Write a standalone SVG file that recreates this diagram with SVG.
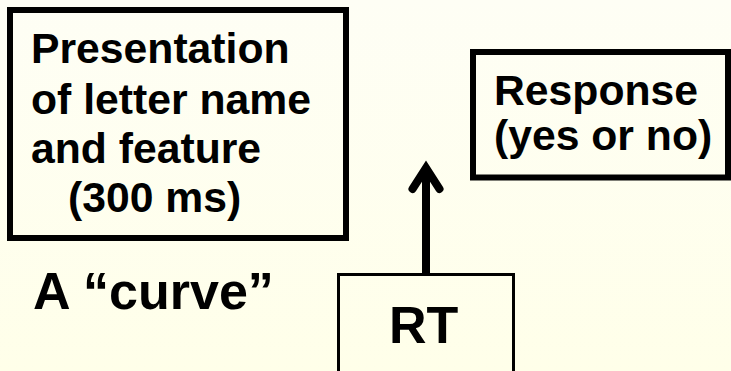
<svg xmlns="http://www.w3.org/2000/svg" width="731" height="371" viewBox="0 0 731 371">
  <defs>
    <linearGradient id="bg" x1="0" y1="0" x2="0" y2="1">
      <stop offset="0" stop-color="#FEFEF5"/>
      <stop offset="1" stop-color="#FFFFE9"/>
    </linearGradient>
    <marker id="openHead" markerUnits="userSpaceOnUse" viewBox="-30 -20 40 40" markerWidth="40" markerHeight="40" refX="0" refY="0" orient="auto" overflow="visible">
      <path d="M -21 -13.5 L 0 0 L -21 13.5" fill="none" stroke="#000" stroke-width="8" stroke-linecap="round" stroke-linejoin="miter"/>
    </marker>
    <style>
      .box { fill: none; stroke: #000; }
      .heavy { stroke-width: 6; }
      .thin { stroke-width: 3; }
      .lbl { font-family: "Liberation Sans", Arial, sans-serif; font-weight: bold; fill: #000; }
      .mid { font-size: 42.7px; }
      .big { font-size: 52px; }
    </style>
  </defs>

  <rect width="731" height="371" fill="url(#bg)"/>

  <!-- stimulus box -->
  <g id="presentation">
    <rect class="box heavy" x="10" y="10" width="336" height="228"/>
    <text class="lbl mid" x="31" y="63">Presentation</text>
    <text class="lbl mid" x="31" y="114">of letter name</text>
    <text class="lbl mid" x="31" y="163">and feature</text>
    <text class="lbl mid" x="68" y="212">(300 ms)</text>
  </g>

  <!-- example feature -->
  <g id="feature-example">
    <text class="lbl big" x="33" y="309">A “curve”</text>
  </g>

  <!-- response box -->
  <g id="response">
    <rect class="box heavy" x="473" y="52" width="255" height="125.5"/>
    <text class="lbl mid" x="494" y="105">Response</text>
    <text class="lbl mid" x="494" y="150">(yes or no)</text>
  </g>

  <!-- reaction time box -->
  <g id="rt">
    <rect class="box thin" x="338.5" y="274.5" width="175" height="110"/>
    <text class="lbl big" x="389" y="343">RT</text>
  </g>

  <!-- connectors -->
  <g id="connectors">
    <line x1="426" y1="273" x2="426" y2="168" stroke="#000" stroke-width="8" marker-end="url(#openHead)"/>
  </g>
</svg>
